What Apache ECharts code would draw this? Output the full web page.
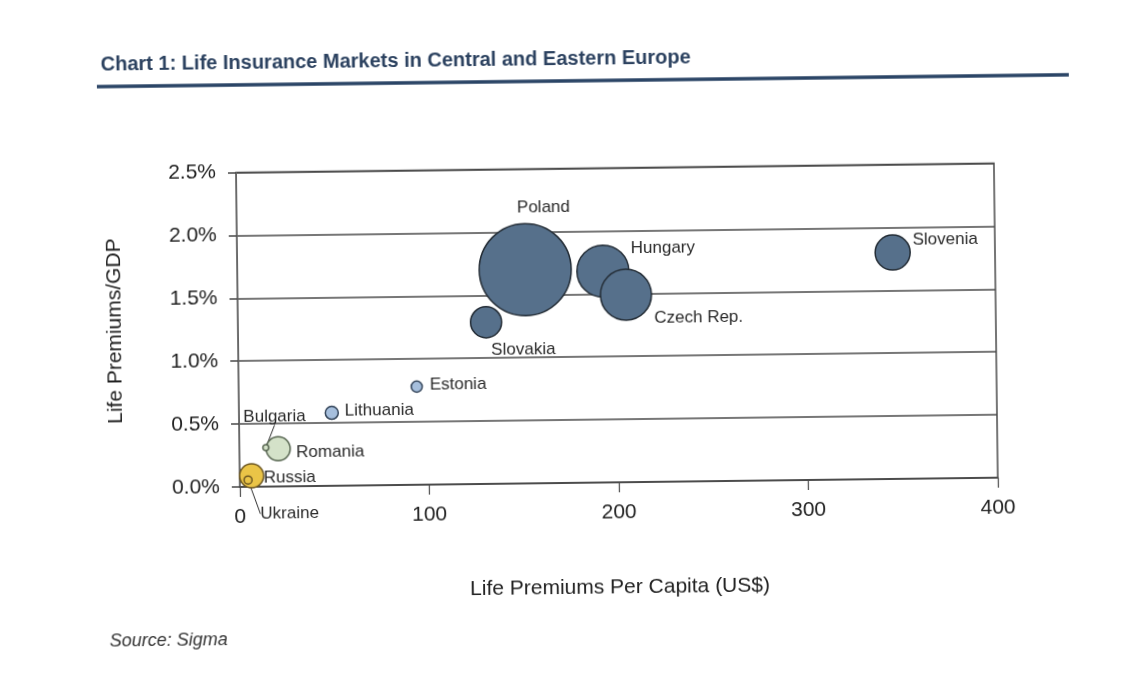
<!DOCTYPE html>
<html>
<head>
<meta charset="utf-8">
<script src="https://cdn.jsdelivr.net/npm/echarts@6/dist/echarts.min.js"></script>
<style>
  html, body { margin: 0; padding: 0; background: #ffffff; overflow: hidden; }
  #chart { width: 1122px; height: 675px; transform: rotate(-0.7deg); transform-origin: 561px 337px; }
</style>
</head>
<body>
<div id="chart"></div>
<script>
// Life insurance markets, Central and Eastern Europe
const countries = ['Poland', 'Hungary', 'Czech Rep.', 'Slovakia', 'Slovenia', 'Estonia', 'Lithuania', 'Romania', 'Russia', 'Bulgaria', 'Ukraine'];
// life premiums per capita, US$
const premiumsPerCapita = [152, 193, 205, 131, 346, 94, 49, 20.5, 6.3, 14, 4.4];
// life premiums as % of GDP
const premiumsToGdp = [1.70, 1.68, 1.49, 1.285, 1.80, 0.78, 0.58, 0.30, 0.087, 0.31, 0.054];
// total life premium volume, US$ bn (bubble area)
const premiumVolume = [5.86, 1.87, 1.80, 0.67, 0.85, 0.084, 0.117, 0.40, 0.40, 0.025, 0.044];
// axis ticks
const xTicks = [0, 100, 200, 300, 400];
const yTicks = [0, 0.5, 1.0, 1.5, 2.0, 2.5];

const FONT = '"Liberation Sans", Arial, sans-serif';

// bubble colour schemes
const schemes = {
  slate:  { color: '#56708b', borderColor: '#232c35' },
  sky:    { color: '#a6bfdd', borderColor: '#34455a' },
  sage:   { color: '#d4e2c9', borderColor: '#55644f' },
  amber:  { color: '#eac447', borderColor: '#6b5520' }
};
const schemeOf = {
  'Poland': 'slate', 'Hungary': 'slate', 'Czech Rep.': 'slate', 'Slovakia': 'slate', 'Slovenia': 'slate',
  'Estonia': 'sky', 'Lithuania': 'sky',
  'Romania': 'sage', 'Bulgaria': 'sage',
  'Russia': 'amber', 'Ukraine': 'amber'
};
// label placement: text anchor and pixel offset of the anchor from the bubble centre
const labelPlacement = {
  'Poland':     { align: 'center', dx: 19, dy: -62 },
  'Hungary':    { align: 'left',   dx: 28, dy: -22 },
  'Czech Rep.': { align: 'left',   dx: 28, dy: 24 },
  'Slovakia':   { align: 'center', dx: 37, dy: 28 },
  'Slovenia':   { align: 'left',   dx: 20, dy: -12 },
  'Estonia':    { align: 'left',   dx: 13, dy: -2 },
  'Lithuania':  { align: 'left',   dx: 13, dy: -2 },
  'Romania':    { align: 'left',   dx: 18, dy: 4 },
  'Russia':     { align: 'left',   dx: 12, dy: 2 },
  'Bulgaria':   { align: 'center', dx: 9,  dy: -31, leader: true },
  'Ukraine':    { align: 'left',   dx: 12, dy: 34, leader: true }
};

const seriesData = countries.map(function (name, i) {
  return {
    name: name,
    value: [premiumsPerCapita[i], premiumsToGdp[i], premiumVolume[i]],
    itemStyle: Object.assign({ borderWidth: 1.5, opacity: 1 }, schemes[schemeOf[name]]),
    labelLine: { show: !!labelPlacement[name].leader }
  };
});

const chart = echarts.init(document.getElementById('chart'), null, { renderer: 'canvas' });

chart.setOption({
  backgroundColor: '#ffffff',
  animation: false,
  title: {
    text: 'Chart 1: Life Insurance Markets in Central and Eastern Europe',
    left: 99,
    top: 44,
    textStyle: { fontFamily: FONT, fontSize: 20, fontWeight: 'bold', color: '#2c4260' }
  },
  graphic: [
    {
      type: 'line',
      shape: { x1: 100, y1: 81, x2: 1072, y2: 81 },
      style: { stroke: '#2b4566', lineWidth: 3.5 },
      silent: true
    },
    {
      type: 'text',
      left: 106,
      top: 627,
      style: { text: 'Source: Sigma', fontFamily: FONT, fontSize: 18, fontStyle: 'italic', fill: '#333' },
      silent: true
    }
  ],
  grid: {
    left: 238, right: 126, top: 168.5, bottom: 192,
    show: true, borderColor: '#4a4a4a', borderWidth: 1.5, backgroundColor: 'transparent'
  },
  xAxis: {
    type: 'value',
    min: xTicks[0],
    max: xTicks[xTicks.length - 1],
    interval: xTicks[1] - xTicks[0],
    name: 'Life Premiums Per Capita (US$)',
    nameLocation: 'middle',
    nameGap: 95,
    nameTextStyle: { fontFamily: FONT, fontSize: 21, color: '#222' },
    axisLine: { show: true, lineStyle: { color: '#4a4a4a', width: 1.5 } },
    axisTick: { show: true, length: 10, lineStyle: { color: '#4a4a4a', width: 1.2 } },
    axisLabel: { fontFamily: FONT, fontSize: 21, color: '#222', margin: 20 },
    splitLine: { show: false }
  },
  yAxis: {
    type: 'value',
    min: yTicks[0],
    max: yTicks[yTicks.length - 1],
    interval: yTicks[1] - yTicks[0],
    name: 'Life Premiums/GDP',
    nameLocation: 'middle',
    nameGap: 112,
    nameTextStyle: { fontFamily: FONT, fontSize: 21, color: '#222' },
    axisLine: { show: true, lineStyle: { color: '#666', width: 1 } },
    axisTick: { show: true, length: 8, lineStyle: { color: '#4a4a4a', width: 1.5 } },
    axisLabel: {
      fontFamily: FONT, fontSize: 21, color: '#222', margin: 20,
      formatter: function (v) { return v.toFixed(1) + '%'; }
    },
    splitLine: { show: true, lineStyle: { color: '#4a4a4a', width: 1.5 } }
  },
  series: [{
    type: 'scatter',
    symbol: 'circle',
    symbolSize: function (val) { return Math.sqrt(val[2]) * 38; },
    data: seriesData,
    label: {
      show: true,
      position: 'inside',
      formatter: '{b}',
      fontFamily: FONT,
      fontSize: 17,
      color: '#2a2a2a'
    },
    labelLine: {
      show: false,
      lineStyle: { color: '#333', width: 1 }
    },
    labelLayout: function (params) {
      const place = labelPlacement[countries[params.dataIndex]];
      const r = params.rect;
      return {
        x: r.x + r.width / 2 + place.dx,
        y: r.y + r.height / 2 + place.dy,
        align: place.align,
        verticalAlign: 'middle'
      };
    },
    emphasis: { disabled: true }
  }]
});
</script>
</body>
</html>
